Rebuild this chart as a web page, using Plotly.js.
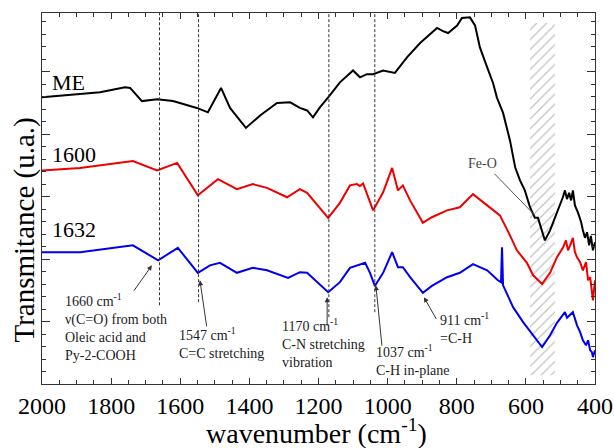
<!DOCTYPE html>
<html>
<head>
<meta charset="utf-8">
<script src="https://cdn.plot.ly/plotly-3.0.1.min.js"></script>
<style>html,body{margin:0;padding:0;background:#fff}#chart{width:614px;height:448px}</style>
</head>
<body>
<div id="chart"></div>
<script>
// ---- data ----
const wnME = [2000,1948,1899,1832,1760,1745,1711,1667,1621,1552,1520,1482,1456,1410,1369,1320,1282,1254,1233,1216,1196,1172,1138,1100,1080,1060,1042,1013,979,944,906,857,840,825,799,785,762,747,733,712,695,684,666,646,631,617,603,588,574,565,553,545,530,510,493,487,481,475,469,464,458,449,440,435,429,423,420,417,412,406,400];
const tME  = [4.59,4.61,4.64,4.67,4.75,4.74,4.53,4.56,4.53,4.42,4.35,4.74,4.42,4.10,4.30,4.50,4.51,4.42,4.38,4.27,4.43,4.59,4.83,5.02,4.91,4.96,4.96,5.02,4.98,5.23,5.46,5.70,5.65,5.62,5.74,5.86,5.87,5.74,5.39,5.07,4.82,4.59,4.34,3.90,3.47,3.26,3.10,2.83,2.66,2.66,2.42,2.30,2.46,2.74,2.99,3.10,2.96,3.06,2.94,3.10,2.86,2.74,2.59,2.46,2.34,2.43,2.30,2.22,2.37,2.14,2.27];

const wn1600 = [2000,1890,1737,1667,1609,1549,1491,1436,1390,1349,1291,1254,1233,1172,1138,1109,1089,1080,1071,1042,1013,987,970,956,935,898,872,828,791,753,712,675,646,626,597,579,553,530,510,493,484,478,472,464,458,452,443,435,426,420,414,409,406,400];
const t1600  = [3.42,3.46,3.57,3.42,3.54,3.02,3.28,3.12,3.20,3.14,2.99,3.12,3.06,2.66,2.90,3.18,3.20,3.17,3.21,2.78,3.07,3.46,3.10,3.18,2.94,2.58,2.67,2.78,2.83,3.04,2.86,2.70,2.38,2.14,1.94,1.74,1.60,1.78,2.03,2.18,2.30,2.14,2.22,2.34,2.11,2.03,1.95,1.82,1.95,1.66,1.71,1.50,1.34,1.66];

const wn1632 = [2000,1890,1737,1664,1607,1549,1514,1485,1436,1390,1349,1288,1254,1233,1172,1138,1109,1080,1065,1051,1037,1013,987,970,956,935,898,872,828,791,753,712,681,672,669,666,637,608,579,553,530,510,495,487,481,472,464,452,443,435,426,420,414,409,406,400];
const t1632  = [2.11,2.11,2.22,1.98,2.18,1.78,1.90,1.94,1.78,1.86,1.82,1.70,1.79,1.78,1.47,1.63,1.86,1.92,1.94,1.78,1.57,1.78,2.11,1.87,1.87,1.71,1.46,1.57,1.71,1.78,1.92,1.82,1.66,1.63,2.19,1.58,1.23,0.99,0.78,0.59,0.78,0.98,1.09,1.15,1.06,1.10,1.15,0.94,0.83,0.70,0.62,0.70,0.54,0.51,0.43,0.54];

const seriesNames = ['ME','1600','1632'];
const peakWn = [1660, 1547, 1170, 1037];
const peakLineBottom = [1.26, 1.31, 1.07, 1.15];
const feoBand = [588, 516];
const xTickVals = [2000,1800,1600,1400,1200,1000,800,600,400];

// ---- styling ----
const serif = "'Liberation Serif'";
const yTop = 5.94;

const traces = [];
// hatched Fe-O band
traces.push({
  x: [feoBand[0], feoBand[1], feoBand[1], feoBand[0], feoBand[0]],
  y: [0.14, 0.14, 5.78, 5.78, 0.14],
  mode: 'lines', fill: 'toself', line: {width: 0, color: 'rgba(0,0,0,0)'},
  fillcolor: 'rgba(255,255,255,0)',
  fillpattern: {shape: '/', fgcolor: '#c4c4c4', bgcolor: 'rgba(255,255,255,0)', size: 7, solidity: 0.18},
  hoverinfo: 'skip', showlegend: false
});
traces.push({x: wnME, y: tME, mode: 'lines', line: {color: '#000000', width: 2}, name: seriesNames[0], showlegend: false});
traces.push({x: wn1600, y: t1600, mode: 'lines', line: {color: '#ee0000', width: 2}, name: seriesNames[1], showlegend: false});
traces.push({x: wn1632, y: t1632, mode: 'lines', line: {color: '#0000ee', width: 2}, name: seriesNames[2], showlegend: false});

const shapes = peakWn.map((w, i) => ({
  type: 'line', xref: 'x', yref: 'y', x0: w, x1: w, y0: peakLineBottom[i], y1: yTop,
  line: {color: '#333', width: 1, dash: '3px,2px'}
}));

const txt = (x, y, text, extra) => Object.assign({
  x: x, y: y, xref: 'x', yref: 'y', text: text, showarrow: false,
  xanchor: 'left', yanchor: 'middle', align: 'left',
  font: {family: serif, size: 14, color: '#222'}
}, extra || {});
const arr = (ax, ay, x, y, head) => ({
  x: x, y: y, ax: ax, ay: ay, xref: 'x', yref: 'y', axref: 'x', ayref: 'y',
  text: '', showarrow: true, arrowhead: head === undefined ? 2 : head, arrowsize: 1, arrowwidth: 1,
  arrowcolor: '#333', standoff: 0, startstandoff: 0
});

const annotations = [
  txt(1978, 4.82, seriesNames[0], {font: {family: serif, size: 22, color: '#000'}}),
  txt(1978, 3.68, seriesNames[1], {font: {family: serif, size: 22, color: '#000'}}),
  txt(1978, 2.48, seriesNames[2], {font: {family: serif, size: 22, color: '#000'}}),
  txt(1939, 0.91, '1660 cm<sup>-1</sup><br>ν(C=O) from both<br>Oleic acid and<br>Py-2-COOH'),
  txt(1609, 0.65, '1547 cm<sup>-1</sup><br>C=C stretching'),
  txt(1311, 0.66, '1170 cm<sup>-1</sup><br>C-N stretching<br>vibration'),
  txt(1039, 0.38, '1037 cm<sup>-1</sup><br>C-H in-plane'),
  txt(854, 0.90, '911 cm<sup>-1</sup><br>=C-H'),
  txt(773, 3.53, 'Fe-O', {font: {family: serif, size: 14, color: '#444'}}),
  arr(1737, 1.47, 1682, 1.90),
  arr(1523, 0.90, 1543, 1.66),
  arr(1175, 0.91, 1175, 1.39),
  arr(1016, 0.59, 1034, 1.58),
  arr(857, 1.02, 895, 1.39),
  Object.assign(arr(695, 3.39, 574, 2.70, 0), {arrowcolor: '#555'}),
  {text: 'Transmitance (u.a.)', xref: 'paper', yref: 'paper', x: -0.031, y: 0.416,
   textangle: -90, showarrow: false, xanchor: 'center', yanchor: 'middle',
   font: {family: serif, size: 29, color: '#000'}},
  {text: 'wavenumber (cm<sup>-1</sup>)', xref: 'paper', yref: 'paper', x: 0.497, y: -0.127,
   showarrow: false, xanchor: 'center', yanchor: 'middle',
   font: {family: serif, size: 28, color: '#000'}}
];

const layout = {
  width: 614, height: 448,
  margin: {l: 42, r: 19, t: 13, b: 64, pad: 0},
  paper_bgcolor: '#fff', plot_bgcolor: '#fff',
  font: {family: serif},
  showlegend: false,
  xaxis: {
    range: [2000, 400], tickvals: xTickVals, ticktext: xTickVals.map(String),
    ticks: 'inside', ticklen: 6, tickcolor: '#333', tickwidth: 1,
    minor: {dtick: 50, tick0: 0, ticks: 'inside', ticklen: 4, tickcolor: '#333'},
    showline: true, linecolor: '#333', linewidth: 1.2, mirror: 'ticks',
    showgrid: false, zeroline: false,
    tickfont: {family: serif, size: 24, color: '#000'}
  },
  yaxis: {
    range: [0, yTop], tick0: 0, dtick: 1,
    ticks: 'inside', ticklen: 8, tickcolor: '#333', tickwidth: 1,
    minor: {dtick: 0.2, ticks: 'inside', ticklen: 4, tickcolor: '#333'},
    showticklabels: false,
    showline: true, linecolor: '#333', linewidth: 1.2, mirror: 'ticks',
    showgrid: false, zeroline: false
  },
  shapes: shapes,
  annotations: annotations
};

Plotly.newPlot('chart', traces, layout, {staticPlot: true, displayModeBar: false});
</script>
</body>
</html>
